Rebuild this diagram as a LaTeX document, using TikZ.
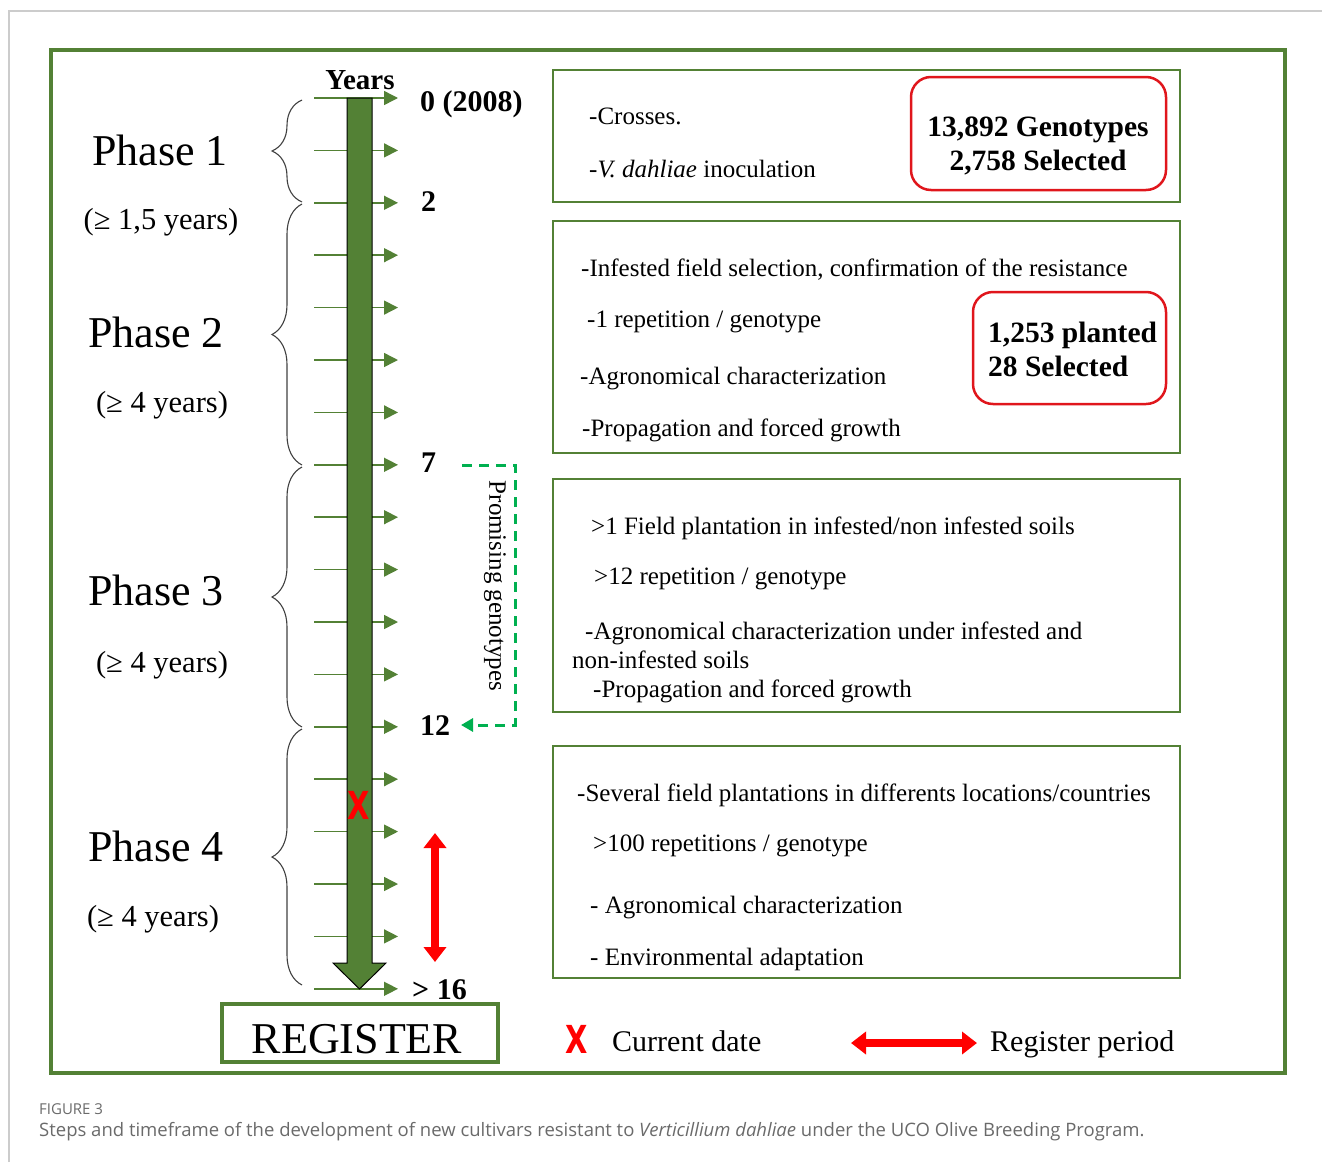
\documentclass[tikz,border=0pt]{standalone}
\usepackage{fontspec}
\setmainfont{Liberation Serif}
\newfontfamily\capfont{Open Sans}
\newfontfamily\xfont{DejaVu Sans}
\usetikzlibrary{arrows.meta,decorations.pathreplacing}
\definecolor{dgreen}{HTML}{538135}
\definecolor{pgreen}{HTML}{00B050}
\definecolor{xred}{HTML}{FF0000}
\definecolor{bred}{HTML}{E0161C}
\definecolor{capgray}{HTML}{6A6A6A}
\definecolor{framegray}{HTML}{CCCCCC}
\tikzset{
  bodytxt/.style={anchor=west, inner sep=0pt, yshift=-6pt, text height=4pt, text depth=0pt, font=\fontsize{25}{30}\selectfont},
  redtxt/.style={inner sep=0pt, yshift=-8pt, text height=4pt, text depth=0pt, font=\fontsize{29.5}{34}\selectfont\bfseries},
  yrlbl/.style={anchor=west, inner sep=0pt, yshift=-7pt, text height=4pt, text depth=0pt, font=\fontsize{30}{36}\selectfont\bfseries},
  phasetxt/.style={inner sep=0pt, font=\fontsize{44}{52}\selectfont},
  durtxt/.style={inner sep=0pt, font=\fontsize{30.5}{36}\selectfont},
  legtxt/.style={anchor=west, inner sep=0pt, yshift=-7pt, text height=4pt, text depth=0pt, font=\fontsize{30}{36}\selectfont},
  greenbox/.style={draw=dgreen, line width=2pt, inner sep=0pt},
  redbox/.style={draw=bred, line width=2.5pt, rounded corners=20pt, inner sep=0pt},
  tickarrow/.style={draw=dgreen, line width=1.5pt, -{Triangle[length=14pt,width=14pt]}, dgreen},
  phbrace/.style={draw=black!75, line width=1.1pt, decorate, decoration={brace, amplitude=30pt, aspect=0.5}},
  promo/.style={draw=pgreen, line width=3pt, dash pattern=on 10pt off 7pt, -{Triangle[length=12pt,width=13pt]}},
  regarrow/.style={draw=xred, line width=8pt, {Triangle[length=15pt,width=22pt]}-{Triangle[length=15pt,width=22pt]}},
  xmark/.style={inner sep=0pt, text=xred, font=\fontsize{29}{34}\selectfont\xfont\bfseries},
}
\begin{document}
\begin{tikzpicture}[x=1pt,y=-1pt]
\useasboundingbox (0,0) rectangle (1322,1162);
% page frame
\draw[framegray, line width=1.5pt] (9,1162) -- (9,11) -- (1322,11);
% main frame
\node[draw=dgreen, line width=4pt, minimum width=1234pt, minimum height=1023pt, inner sep=0pt] (frame) at (668,561.5) {};

% ticks (behind the arrow)
\foreach \i in {0,...,17}{
  \coordinate (ts\i) at (314,{98+\i*52.4});
  \coordinate (te\i) at (398,{98+\i*52.4});
  \draw[tickarrow] (ts\i) -- (te\i);
}
% main arrow
\draw[fill=dgreen, draw=black, line width=1pt] (347,98) -- (372,98) -- (372,963) -- (386,963) -- (359.5,989) -- (333,963) -- (347,963) -- cycle;
\node[inner sep=0pt, font=\fontsize{29}{34}\selectfont\bfseries] (years) at (360,80) {Years};

% year labels
\node[yrlbl] (y0) at (420,102) {0 (2008)};
\node[yrlbl] (y2) at (421,202) {2};
\node[yrlbl] (y7) at (421,463) {7};
\node[yrlbl] (y12) at (420,726) {12};
\node[yrlbl] (y16) at (412,990) {> 16};

% braces
\coordinate (b1a) at (302,202); \coordinate (b1b) at (302,100);
\coordinate (b2a) at (302,465); \coordinate (b2b) at (302,204);
\coordinate (b3a) at (302,727); \coordinate (b3b) at (302,467);
\coordinate (b4a) at (302,985); \coordinate (b4b) at (302,729);
\draw[phbrace] (b1a) -- (b1b);
\draw[phbrace] (b2a) -- (b2b);
\draw[phbrace] (b3a) -- (b3b);
\draw[phbrace] (b4a) -- (b4b);

% phase labels
\node[phasetxt] (ph1) at (160,150) {Phase 1};
\node[durtxt] (d1) at (161,222) {(≥ 1,5 years)};
\node[phasetxt] (ph2) at (156,332) {Phase 2};
\node[durtxt] (d2) at (162,405) {(≥ 4 years)};
\node[phasetxt] (ph3) at (156,590) {Phase 3};
\node[durtxt] (d3) at (162,665) {(≥ 4 years)};
\node[phasetxt] (ph4) at (156,846) {Phase 4};
\node[durtxt] (d4) at (153,919) {(≥ 4 years)};

% current date mark
\node[xmark] (xnow) at (359,805) {\scalebox{1}[1.33]{X}};
% register period arrow
\coordinate (ra1) at (435,962); \coordinate (ra2) at (435,833);
\draw[regarrow] (ra1) -- (ra2);

% promising genotypes
\coordinate (pg1) at (462,465); \coordinate (pg2) at (515,465);
\coordinate (pg3) at (515,725); \coordinate (pg4) at (461,725);
\draw[promo] (pg1) -- (pg2) -- (pg3) -- (pg4);
\node[inner sep=0pt, rotate=-90, font=\fontsize{25}{30}\selectfont] (pgtxt) at (495,586) {Promising genotypes};

% register box
\node[draw=dgreen, line width=4pt, minimum width=276pt, minimum height=58pt, inner sep=0pt] (regbox) at (360,1033) {};
\node[inner sep=0pt, font=\fontsize{44}{52}\selectfont] (regtxt) at (357,1039) {REGISTER};

% legend
\node[xmark] (xleg) at (577,1039) {\scalebox{1}[1.33]{X}};
\node[legtxt] (legcur) at (612,1042) {Current date};
\coordinate (la1) at (851,1043); \coordinate (la2) at (977,1043);
\draw[regarrow] (la1) -- (la2);
\node[legtxt] (legreg) at (990,1042) {Register period};

% right boxes
\node[greenbox, minimum width=627pt, minimum height=132pt] (box1) at (866.5,136) {};
\node[greenbox, minimum width=627pt, minimum height=232pt] (box2) at (866.5,337) {};
\node[greenbox, minimum width=627pt, minimum height=233pt] (box3) at (866.5,595.5) {};
\node[greenbox, minimum width=627pt, minimum height=232pt] (box4) at (866.5,862) {};

\node[redbox, minimum width=255pt, minimum height=113pt] (rb1) at (1038.5,133.5) {};
\node[redbox, minimum width=193pt, minimum height=112pt] (rb2) at (1069.5,348) {};
\node[redtxt] (rb1a) at (1038,126) {13,892 Genotypes};
\node[redtxt] (rb1b) at (1038,160) {2,758 Selected};
\node[redtxt, anchor=west] (rb2a) at (988,332) {1,253 planted};
\node[redtxt, anchor=west] (rb2b) at (988,366) {28 Selected};

% box texts
\node[bodytxt] (t11) at (589,116) {-Crosses.};
\node[bodytxt] (t12) at (589,169) {-\textit{V. dahliae} inoculation};
\node[bodytxt] (t21) at (581,268) {-Infested field selection, confirmation of the resistance};
\node[bodytxt] (t22) at (587,319) {-1 repetition / genotype};
\node[bodytxt] (t23) at (580,376) {-Agronomical characterization};
\node[bodytxt] (t24) at (582,428) {-Propagation and forced growth};
\node[bodytxt] (t31) at (591,526) {>1 Field plantation in infested/non infested soils};
\node[bodytxt] (t32) at (594,576) {>12 repetition / genotype};
\node[bodytxt] (t33) at (585,631) {-Agronomical characterization under infested and};
\node[bodytxt] (t34) at (572,660) {non-infested soils};
\node[bodytxt] (t35) at (593,689) {-Propagation and forced growth};
\node[bodytxt] (t41) at (577,793) {-Several field plantations in differents locations/countries};
\node[bodytxt] (t42) at (593,843) {>100 repetitions / genotype};
\node[bodytxt] (t43) at (590,905) {- Agronomical characterization};
\node[bodytxt] (t44) at (590,957) {- Environmental adaptation};

% caption
\node[anchor=west, inner sep=0pt, text=capgray, font=\fontsize{15}{18}\selectfont\capfont] (capfig) at (39,1109) {FIGURE 3};
\node[anchor=west, inner sep=0pt, text=capgray, font=\fontsize{18.5}{22}\selectfont\capfont] (captxt) at (39,1132) {Steps and timeframe of the development of new cultivars resistant to \textit{Verticillium dahliae} under the UCO Olive Breeding Program.};
\end{tikzpicture}
\end{document}
